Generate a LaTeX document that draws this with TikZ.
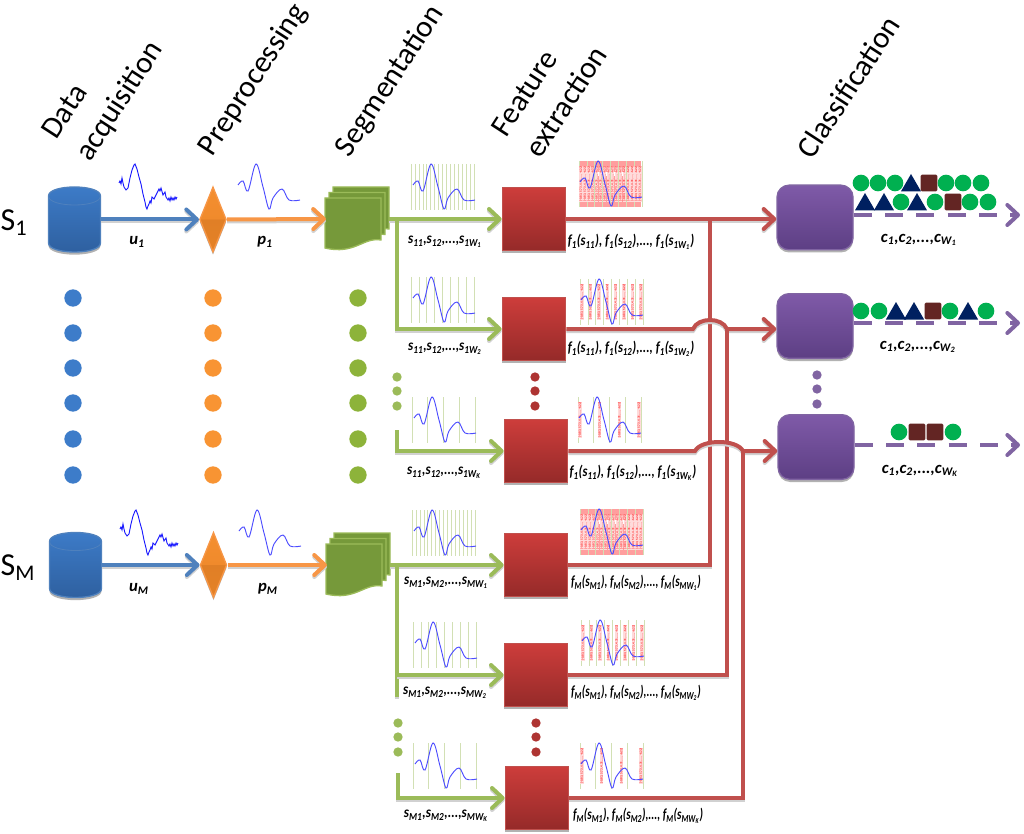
\documentclass[tikz,border=0pt]{standalone}
\usepackage{fontspec}
\setmainfont{Carlito}
\usetikzlibrary{shapes.geometric, arrows.meta, calc, positioning, shadows}
\definecolor{acqblue}{HTML}{4F81BD}
\definecolor{acqtop}{HTML}{3D7CC9}
\definecolor{acqbot}{HTML}{2E5F9E}
\definecolor{preorange}{HTML}{F79646}
\definecolor{pretop}{HTML}{F89433}
\definecolor{premida}{HTML}{F08A2C}
\definecolor{premidb}{HTML}{E07F26}
\definecolor{prebot}{HTML}{E98427}
\definecolor{seggreen}{HTML}{9BBB59}
\definecolor{segfill}{HTML}{76993A}
\definecolor{segdot}{HTML}{8DB33A}
\definecolor{featred}{HTML}{C0504D}
\definecolor{feattop}{HTML}{CD3D3B}
\definecolor{featbot}{HTML}{952A29}
\definecolor{clspurple}{HTML}{8064A2}
\definecolor{clstop}{HTML}{7F5AA8}
\definecolor{clsbot}{HTML}{5D3F84}
\definecolor{symgreen}{HTML}{00B050}
\definecolor{symnavy}{HTML}{002060}
\definecolor{symbrown}{HTML}{632523}
\pgfdeclareverticalshading{gemshade}{100bp}{color(0bp)=(prebot); color(50bp)=(premidb); color(50bp)=(premida); color(100bp)=(pretop)}
\tikzset{
  softshadow/.style={drop shadow={shadow xshift=0pt, shadow yshift=-2pt, opacity=.3, fill=black}},
  flow/.style={line width=3pt, preaction={draw=black!18, line width=3pt, transform canvas={yshift=-1.5pt}}},
  tipped/.style={-{Straight Barb[round, length=8pt, width=15pt]}},
  acqflow/.style={flow, tipped, draw=acqblue},
  preflow/.style={flow, tipped, draw=preorange},
  segflow/.style={flow, draw=seggreen},
  featflow/.style={flow, draw=featred},
  clsflow/.style={line width=3pt, draw=clspurple, dash pattern=on 13.5pt off 10pt, tipped},
  storebox/.style={rectangle, inner sep=0pt, minimum width=39pt, minimum height=49pt},
  storefill/.style={top color=acqtop, bottom color=acqbot, draw=acqblue, line width=1pt, softshadow},
  preblock/.style={diamond, inner sep=0pt, minimum width=20pt, minimum height=49pt, shape aspect=.4, shading=gemshade, draw=preorange, line width=1pt, softshadow},
  segbox/.style={rectangle, inner sep=0pt, minimum width=47pt, minimum height=47pt},
  sheet/.style={fill=segfill, draw=seggreen, line width=1pt},
  featblock/.style={rectangle, inner sep=0pt, minimum width=47.5pt, minimum height=47.5pt, top color=feattop, bottom color=featbot, draw=featred, line width=1pt, softshadow},
  clsblock/.style={rectangle, rounded corners=9pt, inner sep=0pt, minimum width=57pt, minimum height=48.5pt, top color=clstop, bottom color=clsbot, draw=clspurple, line width=1pt, softshadow},
  bigdot/.style={circle, inner sep=0pt, minimum size=13pt, draw=none},
  smalldot/.style={circle, inner sep=0pt, minimum size=7pt, draw=none},
  header/.style={font=\fontsize{23}{30}\selectfont, rotate=57, anchor=west, align=left, inner sep=0pt},
  subject/.style={font=\fontsize{24}{28}\selectfont, inner sep=0pt},
  lab/.style={font=\fontsize{11.5}{13}\selectfont\bfseries\itshape, inner sep=0pt},
  biglab/.style={font=\fontsize{12.5}{14}\selectfont\bfseries\itshape, inner sep=0pt},
  symc/.style={circle, fill=symgreen, inner sep=0pt, minimum size=12.5pt},
  symt/.style={regular polygon, regular polygon sides=3, fill=symnavy, inner sep=0pt, minimum size=17.5pt, yshift=-2pt},
  syms/.style={rectangle, rounded corners=1pt, fill=symbrown, inner sep=0pt, minimum size=12.5pt},
  wave/.style={draw=blue!70, line width=.7pt},
  cutline/.style={draw=seggreen!45, line width=.45pt},
  vectxt/.style={rotate=90, text=red!85!white, fill=red!14, font=\fontsize{2.4}{3}\selectfont\bfseries, inner sep=.2pt},
  vecband/.style={fill=red!38!white, draw=none}
}
\newcommand{\ls}[1]{\textsubscript{#1}}
\newcommand{\slab}[1]{\scalebox{.86}[1]{#1}}
\newcommand{\flab}[1]{\scalebox{.82}[1]{#1}}
\newcommand{\mlab}[1]{\scalebox{.73}[1]{#1}}
\newcommand{\wavepath}{plot[smooth, tension=.6] coordinates {(0,21) (5,17) (10,27) (18,0) (25,23) (31,45) (35,34) (44,25) (51,36) (62,36)}}
% clean signal
\newcommand{\cleanwave}[2]{\draw[wave, shift={(#1,#2)}] \wavepath;}
% raw signal, hand jitter
\newcommand{\rawwave}[2]{\draw[wave, shift={(#1,#2)}, draw=blue!90] plot coordinates {(0,19) (1,17) (2,20) (3,14) (4,19) (5,23) (7,26) (9,24) (11,14) (13,6) (15,1) (16,0) (18,5) (20,13) (22,20) (24,30) (26,38) (27,43) (28,45) (29,42) (30,40) (31,37) (32,39) (33,33) (35,35) (37,31) (38,29) (40,25) (41,27) (42,24) (44,31) (46,28) (47,33) (49,36) (50,34) (51,37) (52,33) (53,36) (54,34) (55,36) (56,33) (57,35) (58,33)};}
% segmented signal: #3 cut lines
\newcommand{\segimg}[3]{
  \foreach \k in {1,...,#3} {
    \pgfmathsetmacro{\xk}{#1+63*(\k-1)/(#3-1)}
    \draw[cutline] (\xk,#2) -- +(0,46);
  }
  \cleanwave{#1+2}{#2}
}
% feature signal: #3 cut lines, #4 columns of vectors
\newcommand{\featimg}[4]{
  \foreach \k in {1,...,#3} {
    \pgfmathsetmacro{\xk}{#1+63*(\k-1)/(#3-1)}
    \draw[cutline] (\xk,#2) -- +(0,46);
  }
  \foreach \k in {1,...,#4} {
    \pgfmathsetmacro{\xk}{#1+2+59*(\k-1)/(#4-1)}
    \node[vectxt] (vec#1n\k) at (\xk,#2+23) {[-0.83, 5.73, 4.31, ..., -6.22]};
  }
  \cleanwave{#1+1}{#2}
}
% database body
\newcommand{\storeshape}[2]{
  \path[storefill, shift={(#1,#2)}] (-26,-23.5) -- (-26,23.5) .. controls (-26,35.5) and (26,35.5) .. (26,23.5) -- (26,-23.5) .. controls (26,-35.5) and (-26,-35.5) .. (-26,-23.5) -- cycle;
  \draw[acqblue, line width=.6pt, shift={(#1,#2)}] (-26,-23.5) .. controls (-26,-11.5) and (26,-11.5) .. (26,-23.5);
}
% three stacked pages
\newcommand{\docpage}[2]{\draw[sheet, shift={(#1,#2)}] (0,0) -- (56,0) -- (56,42) .. controls (38,39) and (30,57) .. (0,50) -- cycle;}
\newcommand{\docstack}[2]{
  \docpage{#1-24.5}{#2-32}
  \docpage{#1-28.5}{#2-26.5}
  \docpage{#1-32.5}{#2-21}
}
\newcommand{\symrow}[3]{
  \foreach \kind/\xx [count=\n] in {#3} {
    \node[\kind] (#1\n) at (\xx,#2) {};
  }
}
\begin{document}
\begin{tikzpicture}[x=0.75pt, y=-0.75pt]
\useasboundingbox (0,0) rectangle (1024,834);

% headers
\node[header] (hacq) at (67,148) {Data\\acquisition};
\node[header] (hpre) at (206,153) {Preprocessing};
\node[header] (hseg) at (343,154) {Segmentation};
\node[header] (hfeat) at (515,144) {Feature\\extraction};
\node[header] (hcls) at (804,155) {Classification};

\node[subject] (subj1) at (14,223) {S\ls{1}};
\node[subject] (subjM) at (18,568) {S\ls{M}};

% signals
\rawwave{119}{164}
\cleanwave{238}{164}
\rawwave{120}{510}
\cleanwave{239}{510}
\segimg{411}{164}{17}
\segimg{411}{277}{9}
\segimg{412}{397}{5}
\segimg{412}{510}{17}
\segimg{413}{622}{9}
\segimg{413}{743}{5}
\fill[vecband] (579,161) rectangle (641,172);
\fill[vecband] (579,176) rectangle (641,207);
\fill[vecband] (580,509) rectangle (643,520);
\fill[vecband] (580,524) rectangle (643,555);
\featimg{579}{161}{9}{16}
\featimg{580}{279}{9}{8}
\featimg{578}{397}{5}{4}
\featimg{580}{509}{9}{16}
\featimg{581}{620}{9}{8}
\featimg{580}{743}{5}{4}

% blocks
\node[storebox] (store1) at (74.5,219.5) {};
\node[storebox] (storeM) at (75.5,565) {};
\storeshape{74.5}{219.5}
\storeshape{75.5}{565}
\node[preblock] (pre1) at (213,219.5) {};
\node[preblock] (preM) at (213.5,565) {};
\node[segbox] (seg1) at (357.5,219) {};
\node[segbox] (segM) at (358.5,565) {};
\docstack{357.5}{219}
\docstack{358.5}{565}
\node[featblock] (feat1) at (534,219) {};
\node[featblock] (feat2) at (534,329) {};
\node[featblock] (feat3) at (536,451) {};
\node[featblock] (feat4) at (536,565) {};
\node[featblock] (feat5) at (536,675) {};
\node[featblock] (feat6) at (537,798) {};
\node[clsblock] (cls1) at (815,217.5) {};
\node[clsblock] (cls2) at (815,326) {};
\node[clsblock] (cls3) at (816,447) {};

% dots between the rows
\foreach \yy [count=\n] in {298,333,368,403,439,475} {
  \node[bigdot, fill=acqtop] (dota\n) at (73,\yy) {};
  \node[bigdot, fill=pretop] (dotp\n) at (213,\yy) {};
  \node[bigdot, fill=segdot] (dots\n) at (358,\yy) {};
}
\foreach \yy [count=\n] in {377,391,406} {
  \node[smalldot, fill=seggreen] (dotu\n) at (397,\yy) {};
  \node[smalldot, fill=feattop!85!black] (dotr\n) at (535,\yy) {};
  \node[smalldot, fill=clspurple] (dotc\n) at (817,\yy-2) {};
}
\foreach \yy [count=\n] in {723,737,752} {
  \node[smalldot, fill=seggreen] (dotv\n) at (398,\yy) {};
  \node[smalldot, fill=feattop!85!black] (dotw\n) at (536,\yy) {};
}

% connectors
\draw[acqflow] (store1.east) -- (pre1.west);
\draw[acqflow] (storeM.east) -- (preM.west);
\draw[preflow] (pre1.east) -- (seg1.west);
\draw[preflow] (preM.east) -- (segM.west);

\coordinate (branch1) at (397,219);
\coordinate (branch2) at (397,430);
\coordinate (branch3) at (397,564);
\coordinate (branch4) at (398,773);
\coordinate (stub1) at (397,697);
\draw[segflow, tipped] (seg1.east) -- (feat1.west);
\draw[segflow, tipped] (branch1) |- (feat2.west);
\draw[segflow, tipped] (branch2) |- (feat3.west);
\draw[segflow, tipped] (segM.east) -- (feat4.west);
\draw[segflow] (branch3) -- (stub1);
\draw[segflow, tipped] (branch3 |- feat5.west) -- (feat5.west);
\draw[segflow, tipped] (branch4) |- (feat6.west);

\coordinate (bus1) at (710,219);
\coordinate (hop2a) at (693,329);
\coordinate (bus2) at (727,329);
\coordinate (hop3a) at (695,451);
\coordinate (bus3) at (743,451);
\draw[featflow, tipped] (feat1.east) -- (feat1.east -| cls1.west);
\draw[featflow] (feat4.east) -| (bus1);
\draw[featflow, tipped] (feat2.east) -- (hop2a) .. controls (698,317) and (722,317) .. (bus2) -- (bus2 -| cls2.west);
\draw[featflow] (feat5.east) -| (bus2);
\draw[featflow, tipped] (feat3.east) -- (hop3a) .. controls (701,439) and (737,439) .. (bus3) -- (bus3 -| cls3.west);
\draw[featflow] (feat6.east) -| (bus3);

\coordinate (out1) at (1020,215);
\coordinate (out2) at (1020,323);
\coordinate (out3) at (1020,445);
\draw[clsflow] (out1 -| cls1.east) -- (out1);
\draw[clsflow] (out2 -| cls2.east) -- (out2);
\draw[clsflow] (out3 -| cls3.east) -- (out3);

% class symbols
\symrow{syma}{183}{symc/861, symc/878, symc/895, symt/911, syms/929, symc/946, symc/963, symc/981}
\symrow{symb}{202}{symt/865, symt/884, symc/901, symt/917, symc/935, syms/953, symc/970, symc/988}
\symrow{symd}{311}{symc/861, symc/879, symt/896, symt/914, syms/933, symc/950, symt/968, symc/986}
\symrow{syme}{432}{symc/899, syms/917, syms/935, symc/953}

% labels
\node[biglab] (lu1) at (137,242) {u\ls{1}};
\node[biglab] (lp1) at (265,242) {p\ls{1}};
\node[biglab] (luM) at (139,589) {u\ls{M}};
\node[biglab] (lpM) at (268,589) {p\ls{M}};
\node[lab] (ls1) at (445,242) {\slab{s\ls{11},s\ls{12},...,s\ls{1W\ls{1}}}};
\node[lab] (ls2) at (445,349) {\slab{s\ls{11},s\ls{12},...,s\ls{1W\ls{2}}}};
\node[lab] (ls3) at (444,473) {\slab{s\ls{11},s\ls{12},...,s\ls{1W\ls{K}}}};
\node[lab] (ls4) at (446,583) {\slab{s\ls{M1},s\ls{M2},...,s\ls{MW\ls{1}}}};
\node[lab] (ls5) at (445,693) {\slab{s\ls{M1},s\ls{M2},...,s\ls{MW\ls{2}}}};
\node[lab] (ls6) at (446,816) {\slab{s\ls{M1},s\ls{M2},...,s\ls{MW\ls{K}}}};
\node[lab] (lf1) at (631,242) {\flab{f\ls{1}(s\ls{11}), f\ls{1}(s\ls{12}),..., f\ls{1}(s\ls{1W\ls{1}})}};
\node[lab] (lf2) at (631,349) {\flab{f\ls{1}(s\ls{11}), f\ls{1}(s\ls{12}),..., f\ls{1}(s\ls{1W\ls{2}})}};
\node[lab] (lf3) at (633,473) {\flab{f\ls{1}(s\ls{11}), f\ls{1}(s\ls{12}),..., f\ls{1}(s\ls{1W\ls{K}})}};
\node[lab] (lf4) at (636,583) {\mlab{f\ls{M}(s\ls{M1}), f\ls{M}(s\ls{M2}),..., f\ls{M}(s\ls{MW\ls{1}})}};
\node[lab] (lf5) at (636,693) {\mlab{f\ls{M}(s\ls{M1}), f\ls{M}(s\ls{M2}),..., f\ls{M}(s\ls{MW\ls{2}})}};
\node[lab] (lf6) at (638,816) {\mlab{f\ls{M}(s\ls{M1}), f\ls{M}(s\ls{M2}),..., f\ls{M}(s\ls{MW\ls{K}})}};
\node[biglab] (lc1) at (919,240) {c\ls{1},c\ls{2},...,c\ls{W\ls{1}}};
\node[biglab] (lc2) at (918,347) {c\ls{1},c\ls{2},...,c\ls{W\ls{2}}};
\node[biglab] (lc3) at (920,471) {c\ls{1},c\ls{2},...,c\ls{W\ls{K}}};
\end{tikzpicture}
\end{document}
